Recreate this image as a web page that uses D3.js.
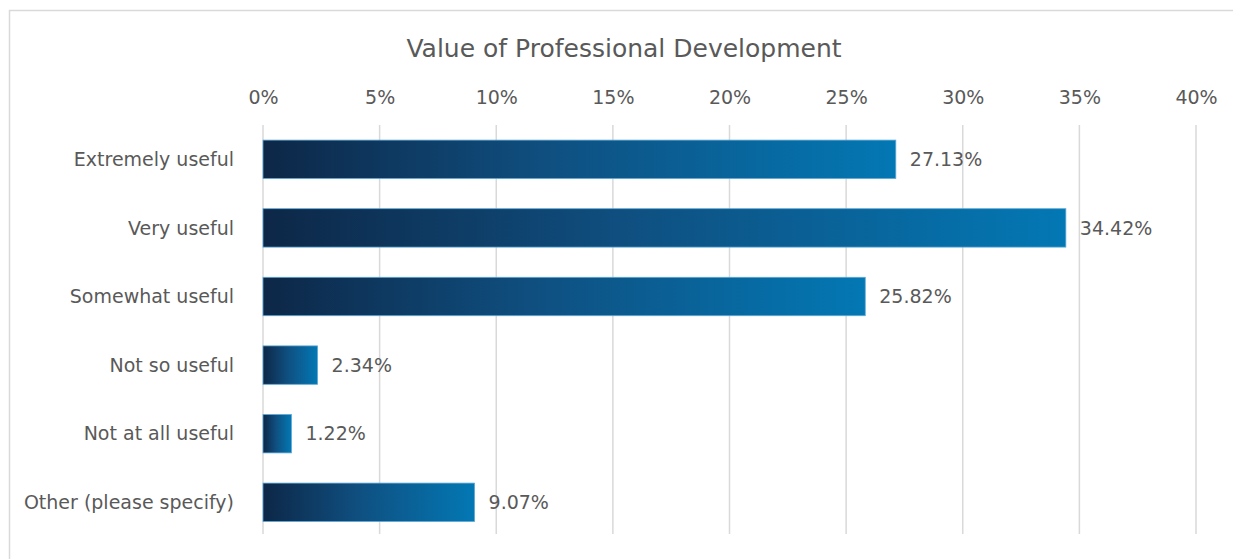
<!DOCTYPE html>
<html>
<head>
<meta charset="utf-8">
<script src="https://cdn.jsdelivr.net/npm/d3@7"></script>
<style>
  html, body { margin: 0; padding: 0; background: #fff; }
  svg { display: block; }
  text { font-family: "DejaVu Sans", "Liberation Sans", Arial, sans-serif; fill: #595959; }
</style>
</head>
<body>
<svg id="chart" width="1233" height="559"></svg>
<script>
// Survey responses: perceived value of professional development
const categories = [
  "Extremely useful",
  "Very useful",
  "Somewhat useful",
  "Not so useful",
  "Not at all useful",
  "Other (please specify)"
];
const shares = [27.13, 34.42, 25.82, 2.34, 1.22, 9.07];
const tickValues = [0, 5, 10, 15, 20, 25, 30, 35, 40];
const title = "Value of Professional Development";

const data = categories.map((c, i) => ({ category: c, value: shares[i] }));
const FONT = '"DejaVu Sans", "Liberation Sans", Arial, sans-serif';

const svg = d3.select("#chart");

// chart frame (runs off the right and bottom edges)
svg.append("rect")
  .attr("x", 9.5).attr("y", 10.5)
  .attr("width", 1240).attr("height", 560)
  .attr("fill", "#fff")
  .attr("stroke", "#d9d9d9")
  .attr("stroke-width", 1.5);

const x = d3.scaleLinear().domain([0, 40]).range([263, 1196]);
const y = d3.scaleBand().domain(categories).range([125, 536.6]).paddingInner(0.44).paddingOuter(0.22);

// horizontal gradient applied per bar
const defs = svg.append("defs");
const grad = defs.append("linearGradient")
  .attr("id", "barGrad")
  .attr("x1", "0%").attr("x2", "100%").attr("y1", "0%").attr("y2", "0%");
grad.append("stop").attr("offset", "0%").attr("stop-color", "#0d2747");
grad.append("stop").attr("offset", "45%").attr("stop-color", "#0f4f80");
grad.append("stop").attr("offset", "100%").attr("stop-color", "#0378b4");

// title
svg.append("text")
  .attr("x", 624).attr("y", 57)
  .attr("text-anchor", "middle")
  .style("font-size", "25px")
  .text(title);

// vertical gridlines
svg.append("g")
  .selectAll("line")
  .data(tickValues)
  .join("line")
  .attr("x1", d => x(d)).attr("x2", d => x(d))
  .attr("y1", 125).attr("y2", 534)
  .attr("stroke", "#d9d9d9")
  .attr("stroke-width", 1.5);

// top axis labels
const xAxis = d3.axisTop(x)
  .tickValues(tickValues)
  .tickFormat(d => d + "%")
  .tickSize(0)
  .tickPadding(0);
const gx = svg.append("g").attr("transform", "translate(0,104)").call(xAxis);
gx.select(".domain").remove();
gx.selectAll("text").attr("y", 0).attr("dy", 0)
  .style("font-size", "19px").style("fill", "#595959").style("font-family", FONT);

// category axis
const yAxis = d3.axisLeft(y).tickSize(0).tickPadding(0);
const gy = svg.append("g").attr("transform", "translate(234,0)").call(yAxis);
gy.select(".domain").remove();
gy.selectAll("text").attr("dy", "0.35em")
  .style("font-size", "19px").style("fill", "#595959").style("font-family", FONT);

// bars
svg.append("g")
  .selectAll("rect")
  .data(data)
  .join("rect")
  .attr("x", x(0))
  .attr("y", d => y(d.category))
  .attr("width", d => x(d.value) - x(0))
  .attr("height", y.bandwidth())
  .attr("fill", "url(#barGrad)")
  .attr("stroke", "#5fa9d6")
  .attr("stroke-width", 0.8);

// value labels
svg.append("g")
  .selectAll("text")
  .data(data)
  .join("text")
  .attr("x", d => x(d.value) + 14)
  .attr("y", d => y(d.category) + y.bandwidth() / 2)
  .attr("dy", "0.35em")
  .style("font-size", "19px")
  .text(d => d.value.toFixed(2) + "%");
</script>
</body>
</html>
